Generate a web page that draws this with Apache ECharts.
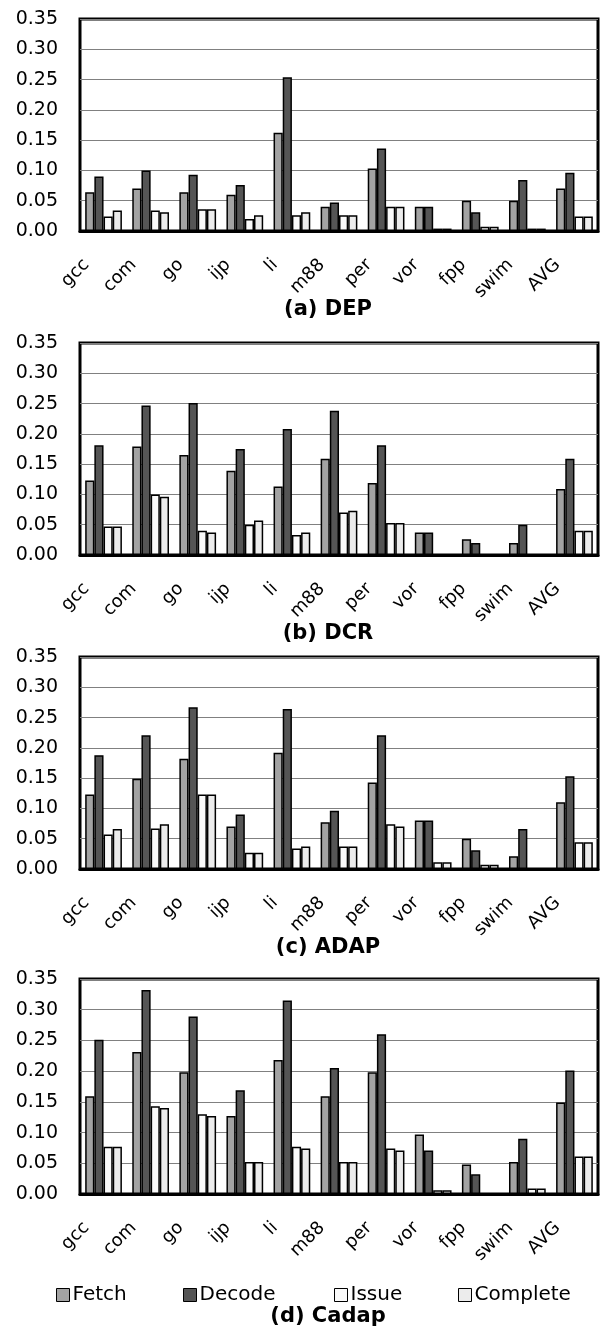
<!DOCTYPE html>
<html>
<head>
<meta charset="utf-8">
<script src="https://cdn.jsdelivr.net/npm/echarts@6/dist/echarts.min.js"></script>
<style>html,body{margin:0;padding:0;background:#fff;}#c{width:600px;height:1329px;}</style>
</head>
<body>
<div id="c"></div>
<script>
const categories = ['gcc','com','go','ijp','li','m88','per','vor','fpp','swim','AVG'];
const yTicks = [0, 0.05, 0.10, 0.15, 0.20, 0.25, 0.30, 0.35];
const seriesNames = ['Fetch','Decode','Issue','Complete'];
const panelTitles = ['(a) DEP','(b) DCR','(c) ADAP','(d) Cadap'];

const fetchA    = [0.064, 0.070, 0.064, 0.060, 0.162, 0.040, 0.103, 0.040, 0.050, 0.050, 0.070];
const decodeA   = [0.090, 0.100, 0.093, 0.076, 0.254, 0.047, 0.136, 0.040, 0.031, 0.084, 0.096];
const issueA    = [0.024, 0.034, 0.036, 0.020, 0.026, 0.026, 0.040, 0.004, 0.007, 0.004, 0.024];
const completeA = [0.034, 0.031, 0.036, 0.026, 0.031, 0.026, 0.040, 0.004, 0.007, 0.004, 0.024];

const fetchB    = [0.123, 0.179, 0.165, 0.139, 0.113, 0.159, 0.119, 0.037, 0.026, 0.020, 0.109];
const decodeB   = [0.181, 0.247, 0.251, 0.175, 0.208, 0.238, 0.181, 0.037, 0.020, 0.050, 0.159];
const issueB    = [0.047, 0.100, 0.040, 0.050, 0.033, 0.070, 0.053, 0, 0, 0, 0.040];
const completeB = [0.047, 0.096, 0.037, 0.057, 0.037, 0.073, 0.053, 0, 0, 0, 0.040];

const fetchC    = [0.123, 0.149, 0.182, 0.070, 0.192, 0.077, 0.143, 0.080, 0.050, 0.021, 0.110];
const decodeC   = [0.188, 0.221, 0.267, 0.090, 0.264, 0.096, 0.221, 0.080, 0.031, 0.066, 0.153];
const issueC    = [0.057, 0.067, 0.123, 0.027, 0.034, 0.037, 0.074, 0.011, 0.007, 0, 0.044];
const completeC = [0.066, 0.074, 0.123, 0.027, 0.037, 0.037, 0.070, 0.011, 0.007, 0, 0.044];

const fetchD    = [0.159, 0.231, 0.198, 0.127, 0.218, 0.159, 0.198, 0.097, 0.048, 0.052, 0.149];
const decodeD   = [0.251, 0.332, 0.289, 0.169, 0.315, 0.205, 0.260, 0.071, 0.032, 0.090, 0.201];
const issueD    = [0.077, 0.143, 0.130, 0.052, 0.077, 0.052, 0.074, 0.006, 0, 0.009, 0.061];
const completeD = [0.077, 0.140, 0.127, 0.052, 0.074, 0.052, 0.071, 0.006, 0, 0.009, 0.061];

const panels = [
  [fetchA, decodeA, issueA, completeA],
  [fetchB, decodeB, issueB, completeB],
  [fetchC, decodeC, issueC, completeC],
  [fetchD, decodeD, issueD, completeD]
];

const colors = ['#a3a3a3', '#555555', '#fafafa', '#ececec'];
const FONT = 'DejaVu Sans';
const gridTops = [19, 343, 657, 979];
const gridHeights = [212, 212, 212, 215];
const titleTops = [294, 618, 932, 1301];

const grids = [], xAxes = [], yAxes = [], series = [], titles = [];
panels.forEach((p, i) => {
  grids.push({left: 80, right: 2, top: gridTops[i], height: gridHeights[i],
    show: true, borderColor: '#000', borderWidth: 3, backgroundColor: 'transparent'});
  xAxes.push({type: 'category', gridIndex: i, data: categories,
    axisLine: {show: true, lineStyle: {color: '#000', width: 3}},
    axisTick: {show: false},
    axisLabel: {show: false}
  });
  yAxes.push({type: 'value', gridIndex: i, min: 0, max: 0.35, interval: 0.05,
    axisLine: {show: false}, axisTick: {show: false},
    splitLine: {show: true, lineStyle: {color: '#808080', width: 1}},
    axisLabel: {margin: 22, fontFamily: FONT, fontSize: 19, color: '#000',
      formatter: v => v.toFixed(2)}
  });
  p.forEach((arr, k) => {
    series.push({type: 'bar', name: seriesNames[k], xAxisIndex: i, yAxisIndex: i,
      data: arr, barGap: '0%', barCategoryGap: '22%',
      itemStyle: {color: colors[k], borderColor: '#000', borderWidth: 1.5},
      silent: true, animation: false});
  });
  titles.push({text: panelTitles[i], left: 323, top: titleTops[i], textAlign: 'center',
    textStyle: {fontFamily: FONT, fontSize: 21, fontWeight: 'bold', color: '#000'}});
});
// label-only axes (category labels in the reference sit left of their bars)
panels.forEach((p, i) => {
  const gi = grids.length;
  grids.push({left: 63, right: 19, top: gridTops[i], height: gridHeights[i], show: false});
  xAxes.push({type: 'category', gridIndex: gi, data: categories,
    axisLine: {show: false}, axisTick: {show: false}, splitLine: {show: false},
    axisLabel: {rotate: 45, margin: 31, fontFamily: FONT, fontSize: 18, color: '#000', interval: 0}
  });
  yAxes.push({type: 'value', gridIndex: gi, min: 0, max: 0.35, show: false});
});

const legendLefts = [51, 178, 329, 453];
const legends = seriesNames.map((n, k) => ({
  data: [n], left: legendLefts[k], top: 1280, icon: 'rect', itemWidth: 13, itemHeight: 13,
  itemGap: 0, selectedMode: false,
  itemStyle: {borderColor: '#000', borderWidth: 1},
  textStyle: {fontFamily: FONT, fontSize: 20, color: '#000', padding: [0, 0, 0, -2]}
}));

const chart = echarts.init(document.getElementById('c'), null, {renderer: 'canvas'});
chart.setOption({
  animation: false,
  backgroundColor: '#fff',
  title: titles,
  legend: legends,
  grid: grids,
  xAxis: xAxes,
  yAxis: yAxes,
  series: series
});
</script>
</body>
</html>
